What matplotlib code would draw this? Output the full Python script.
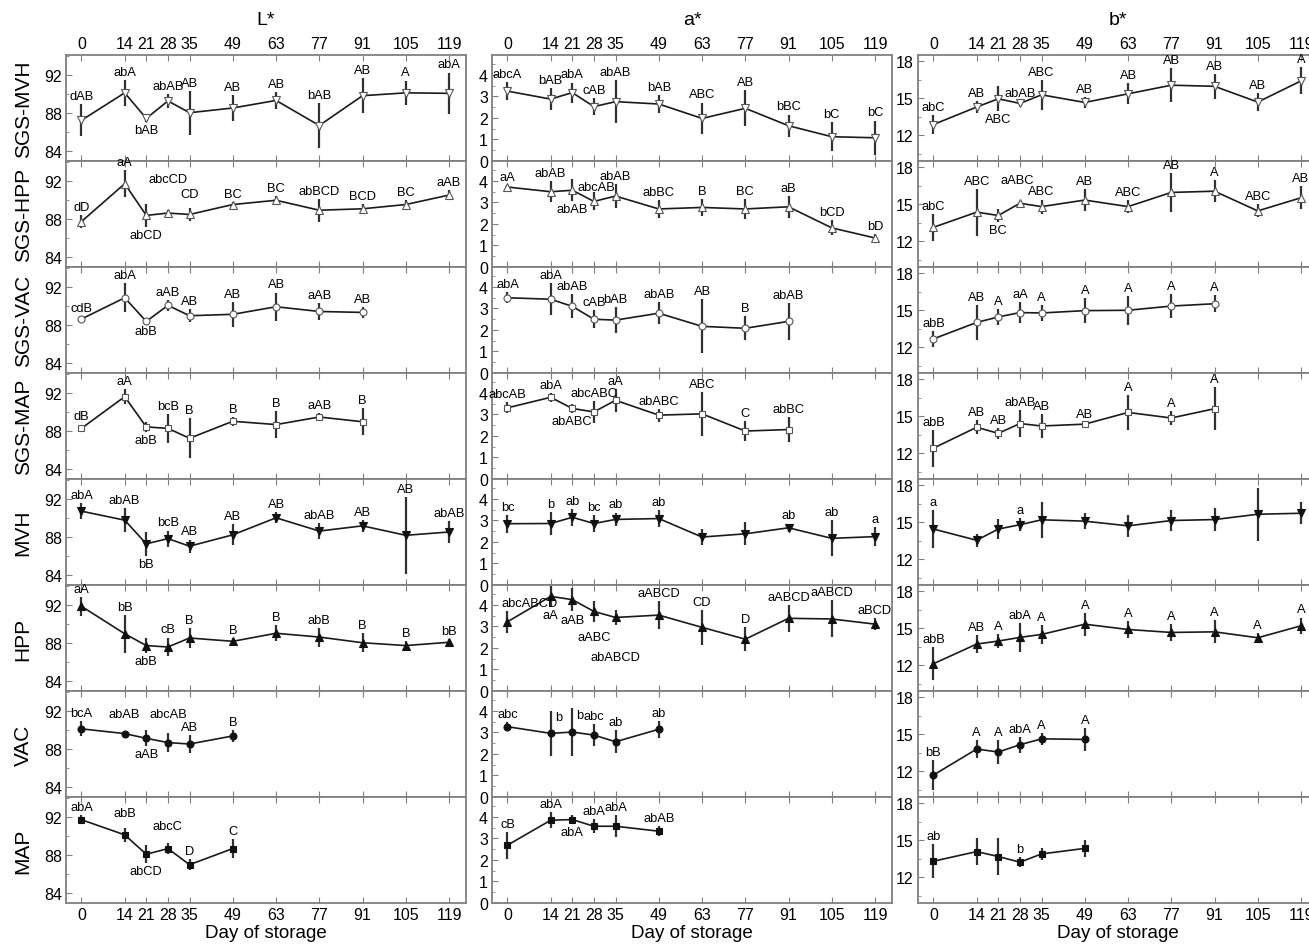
import matplotlib
matplotlib.use('Agg')
import matplotlib.pyplot as plt
from matplotlib.ticker import MultipleLocator

plt.rcParams['font.family'] = ['Liberation Sans', 'DejaVu Sans']

days = [0, 14, 21, 28, 35, 49, 63, 77, 91, 105, 119]
treatments = ['SGS-MVH', 'SGS-HPP', 'SGS-VAC', 'SGS-MAP', 'MVH', 'HPP', 'VAC', 'MAP']
attributes = ['L*', 'a*', 'b*']

# ---------------- L* ----------------
L_sgs_mvh = [87.2, 90.1, 87.4, 89.25, 88.0, 88.5, 89.3, 86.65, 89.8, 90.1, 90.05]
L_sgs_mvh_err = [1.7, 1.4, 0.4, 0.75, 2.3, 1.4, 0.9, 2.4, 1.85, 1.3, 2.2]
L_sgs_mvh_lab = ['dAB', 'abA', 'bAB', 'abAB', 'AB', 'AB', 'AB', 'bAB', 'AB', 'A', 'abA']

L_sgs_hpp = [87.7, 91.7, 88.35, 88.6, 88.45, 89.5, 89.95, 88.9, 89.05, 89.5, 90.5]
L_sgs_hpp_err = [0.7, 1.4, 1.2, 0.3, 0.7, 0.3, 0.4, 1.2, 0.5, 0.5, 0.5]
L_sgs_hpp_lab = ['dD', 'aA', 'abCD', 'abcCD', 'CD', 'BC', 'BC', 'abBCD', 'BCD', 'BC', 'aAB']

L_sgs_vac = [88.6, 90.85, 88.35, 90.05, 88.95, 89.1, 89.9, 89.4, 89.3]
L_sgs_vac_err = [0.3, 1.55, 0.15, 0.6, 0.7, 1.3, 1.5, 0.9, 0.6]
L_sgs_vac_lab = ['cdB', 'abA', 'abB', 'aAB', 'AB', 'AB', 'AB', 'aAB', 'AB']

L_sgs_map = [88.25, 91.6, 88.4, 88.25, 87.2, 89.0, 88.65, 89.45, 88.95]
L_sgs_map_err = [0.4, 0.8, 0.55, 1.5, 2.1, 0.45, 1.45, 0.45, 1.4]
L_sgs_map_lab = ['dB', 'aA', 'abB', 'bcB', 'B', 'B', 'B', 'aAB', 'B']

L_mvh = [90.7, 89.75, 87.25, 87.8, 87.0, 88.2, 90.0, 88.6, 89.15, 88.15, 88.5]
L_mvh_err = [0.85, 1.3, 1.3, 0.85, 0.7, 1.1, 0.6, 0.85, 0.6, 4.05, 1.2]
L_mvh_lab = ['abA', 'abAB', 'bB', 'bcB', 'AB', 'AB', 'AB', 'abAB', 'AB', 'AB', 'abAB']

L_hpp = [91.85, 88.95, 87.7, 87.55, 88.5, 88.15, 89.0, 88.6, 88.0, 87.7, 88.05]
L_hpp_err = [1.0, 2.0, 0.8, 1.0, 1.1, 0.3, 0.85, 1.0, 1.0, 0.5, 0.3]
L_hpp_lab = ['aA', 'bB', 'abB', 'cB', 'B', 'B', 'B', 'abB', 'B', 'B', 'bB']

L_vac = [90.1, 89.6, 89.1, 88.65, 88.5, 89.35]
L_vac_err = [0.8, 0.2, 0.85, 1.0, 0.9, 0.6]
L_vac_lab = ['bcA', 'abAB', 'aAB', 'abcAB', 'AB', 'B']

L_map = [91.7, 90.1, 88.05, 88.65, 86.95, 88.65]
L_map_err = [0.45, 0.75, 0.95, 0.55, 0.55, 1.0]
L_map_lab = ['abA', 'abB', 'abCD', 'abcC', 'D', 'C']

# ---------------- a* ----------------
a_sgs_mvh = [3.25, 2.88, 3.18, 2.53, 2.76, 2.65, 1.98, 2.45, 1.64, 1.13, 1.08]
a_sgs_mvh_err = [0.43, 0.5, 0.47, 0.4, 1.0, 0.43, 0.74, 0.84, 0.52, 0.68, 0.8]
a_sgs_mvh_lab = ['abcA', 'bAB', 'abA', 'cAB', 'abAB', 'bAB', 'ABC', 'AB', 'bBC', 'bC', 'bC']

a_sgs_hpp = [3.72, 3.5, 3.57, 3.05, 3.3, 2.7, 2.77, 2.7, 2.8, 1.82, 1.35]
a_sgs_hpp_err = [0.1, 0.5, 0.5, 0.42, 0.55, 0.42, 0.38, 0.47, 0.52, 0.35, 0.2]
a_sgs_hpp_lab = ['aA', 'abAB', 'abAB', 'abcAB', 'abAB', 'abBC', 'B', 'BC', 'aB', 'bCD', 'bD']

a_sgs_vac = [3.5, 3.43, 3.1, 2.5, 2.46, 2.78, 2.17, 2.08, 2.4]
a_sgs_vac_err = [0.26, 0.75, 0.56, 0.43, 0.6, 0.52, 1.25, 0.56, 0.85]
a_sgs_vac_lab = ['abA', 'abA', 'abAB', 'cAB', 'bAB', 'abAB', 'AB', 'B', 'abAB']

a_sgs_map = [3.31, 3.8, 3.28, 3.12, 3.66, 2.97, 3.03, 2.23, 2.3]
a_sgs_map_err = [0.26, 0.2, 0.22, 0.5, 0.54, 0.3, 1.03, 0.46, 0.58]
a_sgs_map_lab = ['abcAB', 'abA', 'abABC', 'abcABC', 'aA', 'abABC', 'ABC', 'C', 'abBC']

a_mvh = [2.85, 2.86, 3.15, 2.86, 3.05, 3.09, 2.23, 2.38, 2.66, 2.17, 2.25]
a_mvh_err = [0.42, 0.54, 0.4, 0.38, 0.32, 0.38, 0.38, 0.54, 0.2, 0.83, 0.44]
a_mvh_lab = ['bc', 'b', 'ab', 'bc', 'ab', 'ab', '', '', 'ab', 'ab', 'a']

a_hpp = [3.22, 4.4, 4.25, 3.7, 3.42, 3.53, 2.96, 2.41, 3.38, 3.35, 3.11]
a_hpp_err = [0.5, 0.5, 0.55, 0.5, 0.37, 0.64, 0.82, 0.57, 0.62, 0.86, 0.29]
a_hpp_lab = ['abcABCD', 'aA', 'aAB', 'aABC', 'abABCD', 'aABCD', 'CD', 'D', 'aABCD', 'aABCD', 'aBCD']

a_vac = [3.27, 2.96, 3.02, 2.88, 2.57, 3.15]
a_vac_err = [0.2, 1.05, 1.1, 0.5, 0.53, 0.4]
a_vac_lab = ['abc', 'b', 'b', 'abc', 'ab', 'ab']

a_map = [2.69, 3.85, 3.88, 3.57, 3.57, 3.34]
a_map_err = [0.63, 0.37, 0.2, 0.32, 0.5, 0.23]
a_map_lab = ['cB', 'abA', 'abA', 'abA', 'abA', 'abAB']

# ---------------- b* ----------------
b_sgs_mvh = [12.86, 14.28, 14.95, 14.57, 15.27, 14.65, 15.35, 16.05, 15.96, 14.68, 16.4]
b_sgs_mvh_err = [0.78, 0.5, 1.0, 0.2, 1.2, 0.47, 0.85, 1.37, 1.03, 0.74, 1.1]
b_sgs_mvh_lab = ['abC', 'AB', 'ABC', 'abAB', 'ABC', 'AB', 'AB', 'AB', 'AB', 'AB', 'A']

b_sgs_hpp = [13.12, 14.35, 14.08, 15.07, 14.8, 15.33, 14.8, 15.95, 16.05, 14.45, 15.52]
b_sgs_hpp_err = [1.07, 1.9, 0.55, 0.2, 0.57, 0.87, 0.53, 1.56, 0.9, 0.53, 0.93]
b_sgs_hpp_lab = ['abC', 'ABC', 'BC', 'aABC', 'ABC', 'AB', 'ABC', 'AB', 'A', 'ABC', 'AB']

b_sgs_vac = [12.67, 14.0, 14.45, 14.8, 14.77, 14.96, 14.99, 15.33, 15.52]
b_sgs_vac_err = [0.67, 1.4, 0.64, 0.88, 0.64, 1.0, 1.16, 0.99, 0.69]
b_sgs_vac_lab = ['abB', 'AB', 'A', 'aA', 'A', 'A', 'A', 'A', 'A']

b_sgs_map = [12.4, 14.1, 13.6, 14.4, 14.2, 14.35, 15.3, 14.85, 15.6]
b_sgs_map_err = [1.5, 0.57, 0.47, 1.1, 1.0, 0.2, 1.4, 0.56, 1.75]
b_sgs_map_lab = ['abB', 'AB', 'AB', 'abAB', 'AB', 'AB', 'A', 'A', 'A']

b_mvh = [14.44, 13.53, 14.44, 14.79, 15.19, 15.08, 14.7, 15.13, 15.21, 15.64, 15.72]
b_mvh_err = [1.57, 0.54, 0.83, 0.54, 1.45, 0.67, 0.9, 0.82, 0.96, 2.14, 0.9]
b_mvh_lab = ['a', '', '', 'a', '', '', '', '', '', '', '']

b_hpp = [12.11, 13.71, 13.95, 14.25, 14.49, 15.32, 14.89, 14.65, 14.7, 14.22, 15.19]
b_hpp_err = [1.33, 0.76, 0.54, 1.2, 0.75, 0.94, 0.7, 0.7, 0.94, 0.4, 0.67]
b_hpp_lab = ['abB', 'AB', 'A', 'abA', 'A', 'A', 'A', 'A', 'A', 'A', 'A']

b_vac = [11.68, 13.79, 13.55, 14.14, 14.62, 14.57]
b_vac_err = [1.25, 0.76, 1.0, 0.63, 0.5, 0.9]
b_vac_lab = ['bB', 'A', 'A', 'abA', 'A', 'A']

b_map = [13.29, 14.07, 13.67, 13.21, 13.88, 14.33]
b_map_err = [1.4, 1.1, 1.5, 0.4, 0.47, 0.67]
b_map_lab = ['ab', '', '', 'b', '', '']

data = {
    'L*': [(L_sgs_mvh, L_sgs_mvh_err, L_sgs_mvh_lab), (L_sgs_hpp, L_sgs_hpp_err, L_sgs_hpp_lab),
           (L_sgs_vac, L_sgs_vac_err, L_sgs_vac_lab), (L_sgs_map, L_sgs_map_err, L_sgs_map_lab),
           (L_mvh, L_mvh_err, L_mvh_lab), (L_hpp, L_hpp_err, L_hpp_lab),
           (L_vac, L_vac_err, L_vac_lab), (L_map, L_map_err, L_map_lab)],
    'a*': [(a_sgs_mvh, a_sgs_mvh_err, a_sgs_mvh_lab), (a_sgs_hpp, a_sgs_hpp_err, a_sgs_hpp_lab),
           (a_sgs_vac, a_sgs_vac_err, a_sgs_vac_lab), (a_sgs_map, a_sgs_map_err, a_sgs_map_lab),
           (a_mvh, a_mvh_err, a_mvh_lab), (a_hpp, a_hpp_err, a_hpp_lab),
           (a_vac, a_vac_err, a_vac_lab), (a_map, a_map_err, a_map_lab)],
    'b*': [(b_sgs_mvh, b_sgs_mvh_err, b_sgs_mvh_lab), (b_sgs_hpp, b_sgs_hpp_err, b_sgs_hpp_lab),
           (b_sgs_vac, b_sgs_vac_err, b_sgs_vac_lab), (b_sgs_map, b_sgs_map_err, b_sgs_map_lab),
           (b_mvh, b_mvh_err, b_mvh_lab), (b_hpp, b_hpp_err, b_hpp_lab),
           (b_vac, b_vac_err, b_vac_lab), (b_map, b_map_err, b_map_lab)],
}

# ---------------- label placement (styles) ----------------
below = {('L*', t): [21] for t in treatments}
below.update({
    ('a*', 'SGS-HPP'): [21], ('a*', 'SGS-MAP'): [21],
    ('a*', 'HPP'): [14, 21, 28, 35], ('a*', 'MAP'): [21],
    ('b*', 'SGS-MVH'): [21], ('b*', 'SGS-HPP'): [21],
})
right_side = {('a*', 'VAC'): [14, 21]}
extra = {
    ('L*', 'SGS-HPP', 28): (0, 17), ('L*', 'SGS-HPP', 35): (0, 4),
    ('L*', 'MAP', 14): (0, 5), ('L*', 'MAP', 28): (0, 7),
    ('L*', 'VAC', 14): (0, 7), ('L*', 'VAC', 28): (0, 8),
    ('a*', 'HPP', 0): (16, 0), ('a*', 'HPP', 28): (0, -5), ('a*', 'HPP', 35): (0, -17),
    ('a*', 'SGS-HPP', 28): (2, -2),
    ('b*', 'SGS-HPP', 28): (-2, 9),
}

markers = {
    'SGS-MVH': ('v', False), 'SGS-HPP': ('^', False), 'SGS-VAC': ('o', False), 'SGS-MAP': ('s', False),
    'MVH': ('v', True), 'HPP': ('^', True), 'VAC': ('o', True), 'MAP': ('s', True),
}

W, H = 1309, 945
fig = plt.figure(figsize=(W / 100, H / 100), dpi=100)
col_left = [66, 492, 918]
ax_w = 400
top0 = 56
row_h = 106
xlim = (-5, 124.5)
ylims = {'L*': (82.9, 94.1), 'a*': (0, 4.93), 'b*': (9.9, 18.5)}
yticks = {'L*': [84, 88, 92], 'a*': [0, 1, 2, 3, 4], 'b*': [12, 15, 18]}
yminor = {'L*': 2, 'a*': 0.5, 'b*': 1.5}
spine_col = '#808080'

for c, attr in enumerate(attributes):
    for r, trt in enumerate(treatments):
        top = top0 + r * row_h
        ax = fig.add_axes([col_left[c] / W, 1 - (top + row_h) / H, ax_w / W, row_h / H])
        vals, err, labs = data[attr][r]
        x = days[:len(vals)]
        mk, filled = markers[trt]
        if filled:
            ms = 5.0 if mk in 'os' else 5.5
        else:
            ms = 5.0 if mk in 'os' else 5.8
        ax.errorbar(x, vals, yerr=err, fmt='-', marker=mk, ms=ms,
                    color='#1a1a1a', lw=1.2,
                    mfc='#111111' if filled else 'white',
                    mec='#111111' if filled else '#555555', mew=0.8,
                    ecolor='#303030', elinewidth=1.6, capsize=0, zorder=3)
        ax.set_xlim(*xlim)
        ax.set_ylim(*ylims[attr])
        ax.set_xticks(days)
        ax.set_yticks(yticks[attr])
        ax.yaxis.set_minor_locator(MultipleLocator(yminor[attr]))
        for s in ax.spines.values():
            s.set_color(spine_col)
            s.set_linewidth(1.3)
        ax.tick_params(axis='both', which='both', direction='in', color=spine_col,
                       labelsize=11.5, top=True, right=False, pad=3)
        ax.tick_params(axis='both', which='major', length=4)
        ax.tick_params(axis='both', which='minor', length=2.5)
        ax.tick_params(axis='x', labeltop=(r == 0), labelbottom=(r == len(treatments) - 1))
        if r == len(treatments) - 1:
            ax.set_xlabel('Day of storage', fontsize=13.5, labelpad=1)
        if r == 0:
            ax.set_title(attr, fontsize=14, pad=22)
        if c == 0:
            ax.set_ylabel(trt, fontsize=15, labelpad=8)

        bl = below.get((attr, trt), [])
        rs = right_side.get((attr, trt), [])
        for xi, v, e, lab in zip(x, vals, err, labs):
            if not lab:
                continue
            dx, dy = extra.get((attr, trt, xi), (0, 0))
            if xi in bl:
                ax.annotate(lab, (xi, v - e), xytext=(dx, -1.5 + dy), textcoords='offset points',
                            ha='center', va='top', fontsize=9.3, annotation_clip=False, zorder=4)
            elif xi in rs:
                ax.annotate(lab, (xi, v + e), xytext=(3 + dx, -9 + dy), textcoords='offset points',
                            ha='left', va='bottom', fontsize=9.3, annotation_clip=False, zorder=4)
            else:
                ax.annotate(lab, (xi, v + e), xytext=(dx, 1.5 + dy), textcoords='offset points',
                            ha='center', va='bottom', fontsize=9.3, annotation_clip=False, zorder=4)

fig.align_ylabels()
fig.savefig('out.png', dpi=100)
